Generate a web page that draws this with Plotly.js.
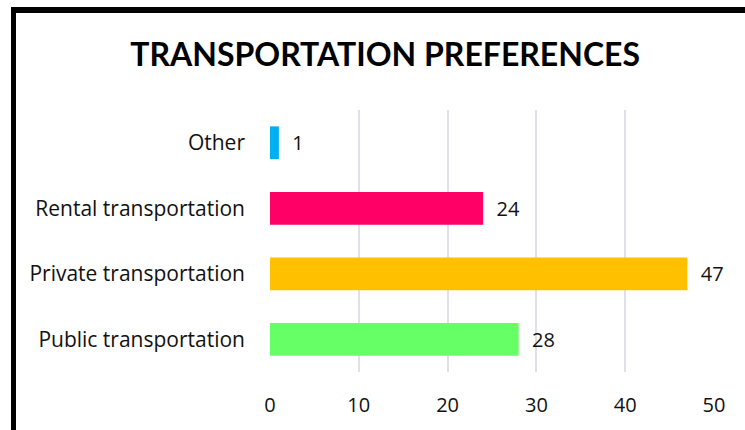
<!DOCTYPE html>
<html>
<head>
<meta charset="utf-8">
<script src="https://cdn.plot.ly/plotly-3.0.1.min.js"></script>
<style>
  body { margin: 0; background: #fff; }
  #myPlot { position: absolute; left: 0; top: 0; width: 745px; height: 430px; }
  #myPlot text { font-variant-ligatures: none; }
  #frame {
    position: absolute; left: 11px; top: 7px; width: 745px; height: 430px;
    border-left: 5px solid #000; border-top: 6px solid #000;
    pointer-events: none;
  }
</style>
</head>
<body>
<div id="myPlot"></div>
<div id="frame"></div>
<script>
// categories bottom to top (plotly puts the first one at the bottom)
const modes = ["Public transportation", "Private transportation", "Rental transportation", "Other"];
const counts = [28, 47, 24, 1];
const barColors = ["#66FF66", "#FFC000", "#FF0066", "#00B0F0"];
const xTicks = [0, 10, 20, 30, 40, 50];

const font = "'Open Sans', Lato, sans-serif";

// Define Data
const data = [{
  type: "bar",
  orientation: "h",
  x: counts,
  y: modes,
  marker: { color: barColors },
  width: 0.5,
  text: counts,
  texttemplate: "\u00a0\u00a0%{x}",
  textposition: "outside",
  textfont: { family: font, size: 20, color: "#111" },
  cliponaxis: false,
  hoverinfo: "none"
}];

// Define Layout
const layout = {
  width: 745,
  height: 430,
  margin: { l: 270, r: 31, t: 110, b: 58 },
  paper_bgcolor: "#fff",
  plot_bgcolor: "#fff",
  showlegend: false,
  title: {
    text: "<b>TRANSPORTATION PREFERENCES</b>",
    font: { family: "Lato, sans-serif", size: 32, color: "#000" },
    x: 0.517,
    xanchor: "center",
    y: 0.872,
    yanchor: "middle"
  },
  xaxis: {
    range: [0, 50],
    tickvals: xTicks,
    showgrid: true,
    gridcolor: "#DEE2E8",
    gridwidth: 2,
    zeroline: false,
    showline: false,
    ticklabelstandoff: 19,
    tickfont: { family: font, size: 20, color: "#111" },
    fixedrange: true
  },
  yaxis: {
    type: "category",
    showgrid: false,
    zeroline: false,
    showline: false,
    ticklabelstandoff: 24,
    tickfont: { family: font, size: 21, color: "#111" },
    fixedrange: true
  }
};

// Display using Plotly
Plotly.newPlot("myPlot", data, layout, { displayModeBar: false, staticPlot: true });
</script>
</body>
</html>
